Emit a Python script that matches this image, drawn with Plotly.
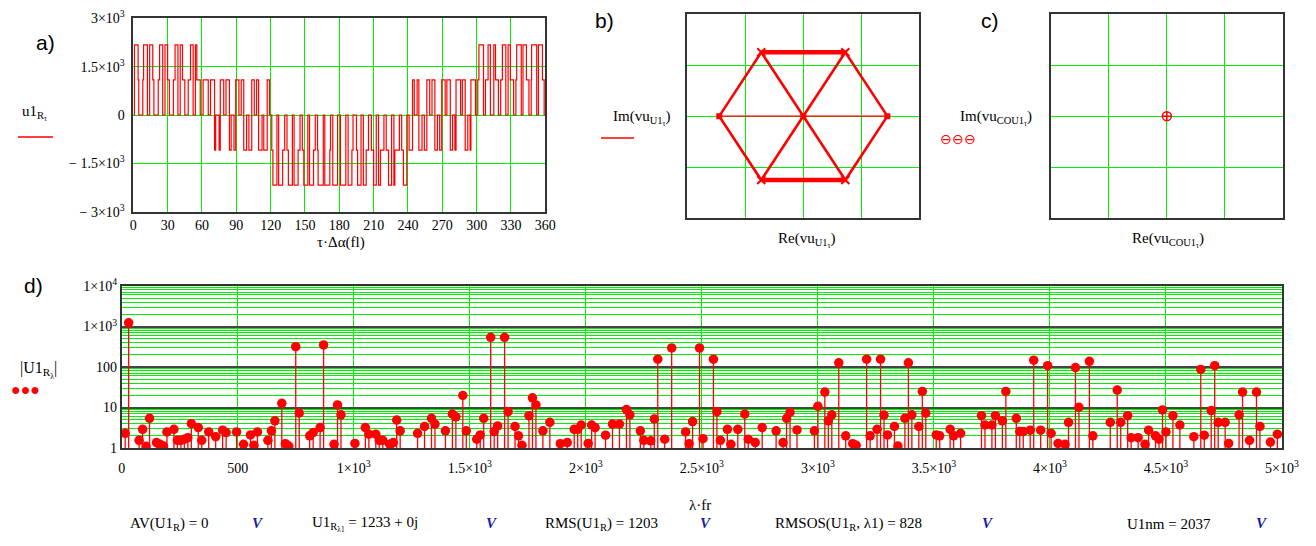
import plotly.graph_objects as go

W, H = 1316, 546

# ---------------- Panel a: phase voltage waveform (step signal) ----------------
HI, MI = 2174, 1087
wave_deg = [0, 1, 4.2, 4.8, 8.3, 9, 12.3,
            14.3, 17, 18, 21.8, 23, 25.7,
            27.7, 30, 31.5, 35, 36.5, 39,
            41, 43, 45, 48, 50, 52.3,
            54.3, 55.5, 58.5, 61, 65.5,
            67.5, 71, 72, 75, 76, 79,
            81, 84, 85.5, 88, 89.5, 92.3,
            94.3, 96.5, 99, 101, 103.5, 105.7,
            107.7, 109.5, 112.5, 114, 117, 119,
            121, 122, 125.5, 127, 130.5, 132.3,
            134.3, 135.5, 139, 140.5, 144, 145.7,
            147.7, 149, 152.5, 154, 157.5, 159,
            161, 161.5, 166, 167.3, 171.7, 172.3,
            174.3, 178.5, 181, 185.7,
            187.7, 191, 192, 195, 196, 199,
            201, 203.5, 205.5, 208, 210, 212.3,
            214.3, 216, 219, 221, 223, 225.7,
            227.7, 228.5, 232.5, 234.5, 236, 239,
            241, 244, 245.5, 248, 249.5, 252.3,
            254.3, 256.5, 259, 261, 263.5, 265.7,
            267.7, 269.5, 272.5, 274, 277, 279,
            281, 282, 286, 287.5, 290, 292.3,
            294.3, 295, 299, 301, 302, 306,
            307.7, 310, 312, 315, 316.5, 319,
            321, 322.5, 325.5, 327.5, 329.5, 332.3,
            334.3, 335, 339, 340.5, 343.5, 345.7,
            347.7, 348, 352.5, 354, 357.5, 359, 360]
wave_val = [0, HI, MI, 0, MI, HI, 0,
            HI, MI, 0, MI, HI, 0,
            HI, MI, 0, MI, HI, 0,
            HI, MI, 0, MI, HI, 0,
            HI, MI, 0, MI, 0,
            MI, -MI, 0, -MI, MI, 0,
            MI, -MI, 0, -MI, MI, 0,
            MI, -MI, 0, -MI, MI, 0,
            MI, -MI, 0, -MI, MI, 0,
            -MI, -HI, 0, -HI, -MI, 0,
            -MI, -HI, 0, -HI, -MI, 0,
            -MI, -HI, 0, -HI, -MI, 0,
            -MI, -HI, 0, -HI, -MI, 0,
            -HI, 0, -HI, 0,
            -HI, -MI, 0, -MI, -HI, 0,
            -HI, -MI, 0, -MI, -HI, 0,
            -HI, -MI, 0, -MI, -HI, 0,
            -HI, -MI, 0, -MI, -HI, 0,
            -MI, MI, 0, MI, -MI, 0,
            -MI, MI, 0, MI, -MI, 0,
            -MI, MI, 0, MI, -MI, 0,
            -MI, MI, 0, MI, -MI, 0,
            -MI, MI, 0, MI, HI, 0,
            MI, HI, 0, HI, MI, 0,
            MI, HI, 0, HI, MI, 0,
            MI, HI, 0, HI, MI, 0,
            MI, HI, 0, HI, MI, 0, 0]

# ---------------- Panel b: space-vector hexagon ----------------
hex_re = [2174, 1087, -1087, -2174, -1087, 1087]
hex_im = [0, 1883, 1883, 0, -1883, -1883]

# ---------------- Panel c: zero-sequence vector ----------------
vc_re = [0]
vc_im = [0]

# ---------------- Panel d: harmonic spectrum ----------------
spec_f = [15, 30, 75, 90, 105, 120, 150, 165, 180, 195, 225, 240, 255, 270, 285, 300,
          330, 345, 375, 405, 435, 450, 495, 525, 555, 570, 585, 630, 645, 660, 690, 705,
          720, 750, 765, 810, 825, 855, 870, 915, 930, 945, 1005, 1050, 1065, 1095, 1110,
          1125, 1155, 1170, 1185, 1200, 1275, 1305, 1335, 1350, 1395, 1425, 1440, 1470,
          1485, 1530, 1545, 1560, 1590, 1605, 1620, 1650, 1665, 1695, 1710, 1725, 1755,
          1770, 1785, 1815, 1845, 1890, 1920, 1950, 1965, 1980, 2010, 2025, 2040, 2085,
          2115, 2145, 2175, 2190, 2235, 2250, 2280, 2295, 2310, 2340, 2370, 2430, 2445,
          2460, 2490, 2505, 2550, 2565, 2580, 2610, 2625, 2655, 2685, 2700, 2730, 2760,
          2820, 2850, 2865, 2880, 2910, 2985, 3000, 3030, 3045, 3060, 3090, 3120, 3150,
          3165, 3210, 3225, 3255, 3270, 3285, 3300, 3330, 3345, 3375, 3390, 3405, 3435,
          3450, 3465, 3510, 3525, 3570, 3585, 3615, 3705, 3720, 3750, 3765, 3795, 3810,
          3855, 3870, 3885, 3915, 3930, 3960, 3990, 4005, 4035, 4065, 4080, 4110, 4125,
          4170, 4185, 4260, 4290, 4305, 4335, 4350, 4380, 4410, 4425, 4455, 4470, 4485,
          4500, 4530, 4560, 4620, 4650, 4665, 4695, 4710, 4725, 4755, 4770, 4815, 4830,
          4860, 4890, 4905, 4950, 4980]
spec_a = [2.3, 1233, 1.55, 2.9, 1.1, 5.4, 1.36, 1.23, 1.12, 2.5, 2.9, 1.55, 1.55, 1.65, 1.8, 4.0,
          3.2, 1.55, 2.5, 1.9, 2.75, 2.4, 2.5, 1.23, 2.1, 1.17, 2.5, 1.55, 2.65, 4.7, 12.7, 1.28,
          1.12, 317, 7.3, 2.0, 2.4, 3.2, 350, 1.23, 11.6, 6.6, 1.3, 3.2, 2.2, 2.2, 1.55,
          1.55, 1.23, 1.36, 4.9, 2.65, 2.3, 3.4, 5.4, 3.9, 2.65, 6.9, 5.9, 19.8,
          2.65, 1.65, 2.1, 5.4, 540, 2.55, 3.5, 540, 7.9, 3.4, 2.0, 1.17, 6.3,
          17.3, 11.6, 2.65, 4.3, 1.28, 1.36, 2.9, 2.9, 3.7, 1.3, 3.7, 3.2, 2.07,
          3.9, 3.9, 8.9, 6.6, 2.65, 1.55, 1.5, 5.2, 156, 1.65, 295, 2.5, 1.28,
          4.5, 295, 1.7, 156, 7.9, 1.55, 2.9, 1.23, 2.9, 6.9, 1.65, 1.36, 3.2,
          2.65, 1.36, 5.4, 7.6, 2.8, 2.65, 10.7, 24, 4.7, 6.6, 127, 2.0, 1.28,
          1.17, 156, 2.0, 2.9, 156, 6.5, 2.1, 3.4, 1.12, 5.4, 127, 6.6, 3.4,
          25, 7.3, 2.1, 2.0, 2.9, 2.0, 2.3, 6.3, 3.7, 3.7, 6.3, 4.7, 25,
          5.4, 2.55, 2.55, 2.75, 147, 2.75, 108, 2.3, 1.3, 1.23, 4.3, 97, 10.1,
          138, 2.0, 4.3, 27, 4.3, 6.3, 1.8, 1.8, 1.23, 2.75, 2.0, 1.65, 8.7,
          2.5, 6.3, 3.7, 1.9, 87, 2.07, 8.4, 108, 4.3, 4.3, 1.3, 6.6, 24,
          1.55, 24, 3.4, 1.4, 2.2]

# tick labels
a_xticks = [0, 30, 60, 90, 120, 150, 180, 210, 240, 270, 300, 330, 360]
a_yticks = [-3000, -1500, 0, 1500, 3000]
a_ytext = ["\u2212 3\u00d710<sup>3</sup>", "\u2212 1.5\u00d710<sup>3</sup>", "0",
           "1.5\u00d710<sup>3</sup>", "3\u00d710<sup>3</sup>"]
d_xticks = [0, 500, 1000, 1500, 2000, 2500, 3000, 3500, 4000, 4500, 5000]
d_xtext = ["0", "500", "1\u00d710<sup>3</sup>", "1.5\u00d710<sup>3</sup>", "2\u00d710<sup>3</sup>",
           "2.5\u00d710<sup>3</sup>", "3\u00d710<sup>3</sup>", "3.5\u00d710<sup>3</sup>",
           "4\u00d710<sup>3</sup>", "4.5\u00d710<sup>3</sup>", "5\u00d710<sup>3</sup>"]
d_yticks = [1, 10, 100, 1000, 10000]
d_ytext = ["1", "10", "100", "1\u00d710<sup>3</sup>", "1\u00d710<sup>4</sup>"]

RED = "#ff0000"
GREEN = "#00ee00"
SERIF = "Liberation Serif"
SANS = "Liberation Sans"

fig = go.Figure()

# a
fig.add_trace(go.Scatter(x=wave_deg, y=wave_val, mode="lines", line=dict(color=RED, width=1.2, shape="hv"),
                         xaxis="x", yaxis="y", showlegend=False, hoverinfo="skip"))

# b
def seq(idx):
    return ([hex_re[i] if i is not None else None for i in idx],
            [hex_im[i] if i is not None else None for i in idx])


bx, by = seq([0, 1, 2, 3, 4, 5, 0])
fig.add_trace(go.Scatter(x=bx, y=by, mode="lines", line=dict(color=RED, width=2.6),
                         xaxis="x2", yaxis="y2", showlegend=False))
dx, dy = seq([1, 4, None, 2, 5])
fig.add_trace(go.Scatter(x=dx, y=dy, mode="lines", line=dict(color=RED, width=2.6),
                         xaxis="x2", yaxis="y2", showlegend=False))
hx, hy = seq([0, 3])
fig.add_trace(go.Scatter(x=hx, y=hy, mode="lines",
                         line=dict(color=RED, width=1.3), xaxis="x2", yaxis="y2", showlegend=False))
tx, ty = seq([1, 2, None, 4, 5])
fig.add_trace(go.Scatter(x=tx, y=ty, mode="lines", line=dict(color=RED, width=4.5),
                         xaxis="x2", yaxis="y2", showlegend=False))
mx, my = seq([1, 2, 4, 5])
fig.add_trace(go.Scatter(x=mx, y=my, mode="markers", marker=dict(symbol="x-thin", size=8, color=RED,
                         line=dict(color=RED, width=2)), xaxis="x2", yaxis="y2", showlegend=False))
sx, sy = seq([0, 3])
fig.add_trace(go.Scatter(x=sx + vc_re, y=sy + vc_im, mode="markers", marker=dict(symbol="square", size=6, color=RED),
                         xaxis="x2", yaxis="y2", showlegend=False))

# c
fig.add_trace(go.Scatter(x=vc_re, y=vc_im, mode="markers",
                         marker=dict(symbol="circle-cross-open", size=9, color=RED, line=dict(color=RED, width=1.5)),
                         xaxis="x3", yaxis="y3", showlegend=False))

# d stems
stx, sty = [], []
for f, a in zip(spec_f, spec_a):
    stx += [f, f, None]
    sty += [1, a, None]
fig.add_trace(go.Scatter(x=stx, y=sty, mode="lines", line=dict(color=RED, width=1.3),
                         xaxis="x4", yaxis="y4", showlegend=False, hoverinfo="skip"))
fig.add_trace(go.Scatter(x=spec_f, y=spec_a, mode="markers", marker=dict(size=9.5, color=RED),
                         xaxis="x4", yaxis="y4", showlegend=False))


def dom_x(x0, x1):
    return [x0 / W, x1 / W]


def dom_y(y0, y1):
    return [1 - y1 / H, 1 - y0 / H]


frame = dict(showline=True, linecolor="#333333", linewidth=1.6, mirror=True, zeroline=False, automargin=False,
             gridcolor=GREEN, gridwidth=1.3, ticks="", tickfont=dict(family=SERIF, size=14, color="black"))

layout = dict(
    width=W, height=H, margin=dict(l=0, r=0, t=0, b=0, autoexpand=False), paper_bgcolor="white",
    plot_bgcolor="white", showlegend=False,
    xaxis=dict(frame, domain=dom_x(133.3, 545.3), range=[0, 360], tickvals=a_xticks, anchor="y"),
    yaxis=dict(frame, domain=dom_y(18.3, 211.7), range=[-3000, 3000], tickvals=a_yticks, ticktext=a_ytext,
               ticklabelstandoff=4, anchor="x"),
    xaxis2=dict(frame, domain=dom_x(687.3, 919.3), range=[-3000, 3000], dtick=1500, showticklabels=False,
                anchor="y2"),
    yaxis2=dict(frame, domain=dom_y(14.3, 218), range=[-3000, 3000], dtick=1500, showticklabels=False,
                anchor="x2"),
    xaxis3=dict(frame, domain=dom_x(1051, 1282.7), range=[-3000, 3000], dtick=1500, showticklabels=False,
                anchor="y3"),
    yaxis3=dict(frame, domain=dom_y(14.3, 218), range=[-3000, 3000], dtick=1500, showticklabels=False,
                anchor="x3"),
    xaxis4=dict(frame, domain=dom_x(121.7, 1282), range=[0, 5000], tickvals=d_xticks, ticktext=d_xtext,
                ticklabelstandoff=6, anchor="y4"),
    yaxis4=dict(frame, domain=dom_y(286, 448), type="log", range=[0, 4], tickvals=d_yticks, ticktext=d_ytext,
                gridcolor="#444444", gridwidth=1.6,
                minor=dict(showgrid=True, gridcolor=GREEN, gridwidth=1.1, dtick="D1"),
                anchor="x4"),
)
fig.update_layout(**layout)


def P(x, y):
    return x / W, 1 - y / H


ann = []


def text(x, y, s, size=15, family=SERIF, color="black", xanchor="center"):
    px_, py_ = P(x, y)
    ann.append(dict(x=px_, y=py_, xref="paper", yref="paper", text=s, showarrow=False,
                    font=dict(family=family, size=size, color=color), xanchor=xanchor, yanchor="middle"))


text(45, 43, "a)", 21, SANS)
text(604, 21, "b)", 21, SANS)
text(990, 21, "c)", 21, SANS)
text(33, 285, "d)", 21, SANS)

text(34, 113, "u1<sub>R<sub>\u03c4</sub></sub>", 15)
text(341, 242, "\u03c4\u00b7\u0394\u03b1(fl)", 15)
text(641, 118, "Im(vu<sub>U1<sub>\u03c4</sub></sub>)", 15)
text(806, 240, "Re(vu<sub>U1<sub>\u03c4</sub></sub>)", 15)
text(996, 118, "Im(vu<sub>COU1<sub>\u03c4</sub></sub>)", 15)
text(958, 139, "\u2296\u2296\u2296", 14, SANS, RED)
text(1168, 240, "Re(vu<sub>COU1<sub>\u03c4</sub></sub>)", 15)
text(38, 370, "|U1<sub>R<sub>\u03bb</sub></sub>|", 16)
text(25, 389, "\u25cf\u25cf\u25cf", 16, SANS, RED)
text(700, 505, "\u03bb\u00b7fr", 15)

text(128, 524, "AV(U1<sub>R</sub>) = 0", 15, xanchor="left")
text(310, 524, "U1<sub>R<sub>\u03bb1</sub></sub> = 1233 + 0j", 15, xanchor="left")
text(543, 524, "RMS(U1<sub>R</sub>) = 1203", 15, xanchor="left")
text(773, 524, "RMSOS(U1<sub>R</sub>, \u03bb1) = 828", 15, xanchor="left")
text(1125, 524, "U1nm = 2037", 15, xanchor="left")
for vx in [258, 492, 706, 988, 1262]:
    text(vx, 523, "<b><i>V</i></b>", 15, SERIF, "#1c1ca8")

fig.update_layout(annotations=ann)

shapes = []
for (x0, x1, y) in [(18, 53, 137), (601, 634, 138)]:
    a0 = P(x0, y)
    a1 = P(x1, y)
    shapes.append(dict(type="line", xref="paper", yref="paper", x0=a0[0], x1=a1[0], y0=a0[1], y1=a1[1],
                       line=dict(color=RED, width=1.3)))
fig.update_layout(shapes=shapes)

fig.write_html("out.html", config={"displayModeBar": False},
               post_script="document.body.style.margin='0';document.body.style.overflow='hidden';")
